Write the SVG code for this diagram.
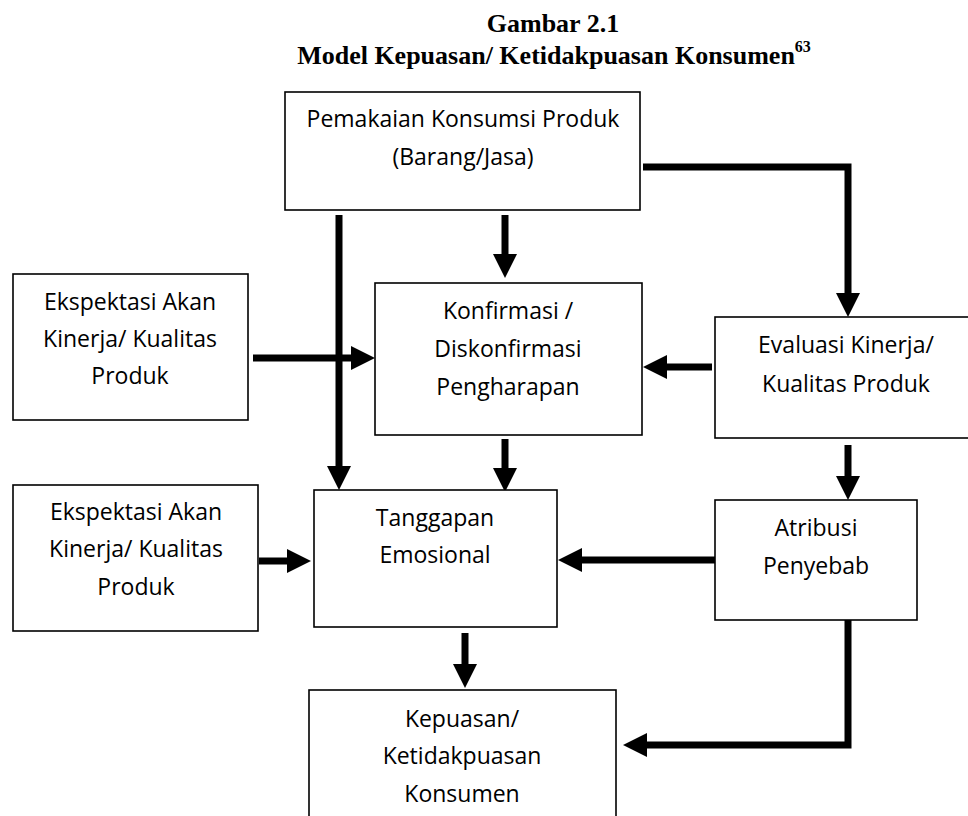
<svg xmlns="http://www.w3.org/2000/svg" width="968" height="816" viewBox="0 0 968 816">
<style>
.box{fill:#fff;stroke:#000;stroke-width:1.6}
.t{font-family:"Open Sans","Liberation Sans",sans-serif;font-size:23px;fill:#000;text-anchor:middle}
.title{font-family:"Liberation Serif","Times New Roman",serif;font-weight:bold;font-size:26px;fill:#000;text-anchor:middle}
.c{fill:none;stroke:#000;stroke-width:7;stroke-linejoin:miter;stroke-linecap:butt}
</style>
<defs>
<marker id="ah" markerUnits="userSpaceOnUse" markerWidth="26" markerHeight="26" refX="0" refY="12" orient="auto" overflow="visible">
<path d="M0,0 L24,12 L0,24 Z" fill="#000"/>
</marker>
</defs>
<rect width="968" height="816" fill="#fff"/>
<g id="title">
<text class="title" x="553" y="32">Gambar 2.1</text>
<text class="title" x="554" y="64">Model Kepuasan/ Ketidakpuasan Konsumen<tspan font-size="16" dy="-12">63</tspan></text>
</g>
<g id="connectors">
<path class="c" d="M643,167 H848 V293" marker-end="url(#ah)"/>
<path class="c" d="M505,215 V254" marker-end="url(#ah)"/>
<path class="c" d="M339,215 V466" marker-end="url(#ah)"/>
<path class="c" d="M253,358 H351" marker-end="url(#ah)"/>
<path class="c" d="M712,367 H667" marker-end="url(#ah)"/>
<path class="c" d="M505,439 V468" marker-end="url(#ah)"/>
<path class="c" d="M259,561 H287" marker-end="url(#ah)"/>
<path class="c" d="M848,445 V476" marker-end="url(#ah)"/>
<path class="c" d="M715,560 H582" marker-end="url(#ah)"/>
<path class="c" d="M465,633 V664" marker-end="url(#ah)"/>
<path class="c" d="M848,620 V745 H647" marker-end="url(#ah)"/>
</g>
<g id="pemakaian">
<rect class="box" x="285" y="92" width="355" height="118"/>
<text class="t" x="463" y="127">Pemakaian Konsumsi Produk</text>
<text class="t" x="463" y="165">(Barang/Jasa)</text>
</g>
<g id="ekspektasi1">
<rect class="box" x="13" y="274" width="235" height="146"/>
<text class="t" x="130" y="310">Ekspektasi Akan</text>
<text class="t" x="130" y="347">Kinerja/ Kualitas</text>
<text class="t" x="130" y="384">Produk</text>
</g>
<g id="konfirmasi">
<rect class="box" x="375" y="283" width="267" height="152"/>
<text class="t" x="508" y="319">Konfirmasi /</text>
<text class="t" x="508" y="357">Diskonfirmasi</text>
<text class="t" x="508" y="395">Pengharapan</text>
</g>
<g id="evaluasi">
<rect class="box" x="715" y="317" width="262" height="121"/>
<text class="t" x="846" y="353">Evaluasi Kinerja/</text>
<text class="t" x="846" y="392">Kualitas Produk</text>
</g>
<g id="ekspektasi2">
<rect class="box" x="13" y="485" width="245" height="146"/>
<text class="t" x="136" y="520">Ekspektasi Akan</text>
<text class="t" x="136" y="557">Kinerja/ Kualitas</text>
<text class="t" x="136" y="595">Produk</text>
</g>
<g id="tanggapan">
<rect class="box" x="314" y="490" width="243" height="137"/>
<text class="t" x="435" y="526">Tanggapan</text>
<text class="t" x="435" y="563">Emosional</text>
</g>
<g id="atribusi">
<rect class="box" x="715" y="500" width="202" height="120"/>
<text class="t" x="816" y="536">Atribusi</text>
<text class="t" x="816" y="574">Penyebab</text>
</g>
<g id="kepuasan">
<rect class="box" x="309" y="690" width="307" height="140"/>
<text class="t" x="462" y="727">Kepuasan/</text>
<text class="t" x="462" y="764">Ketidakpuasan</text>
<text class="t" x="462" y="802">Konsumen</text>
</g>
</svg>
